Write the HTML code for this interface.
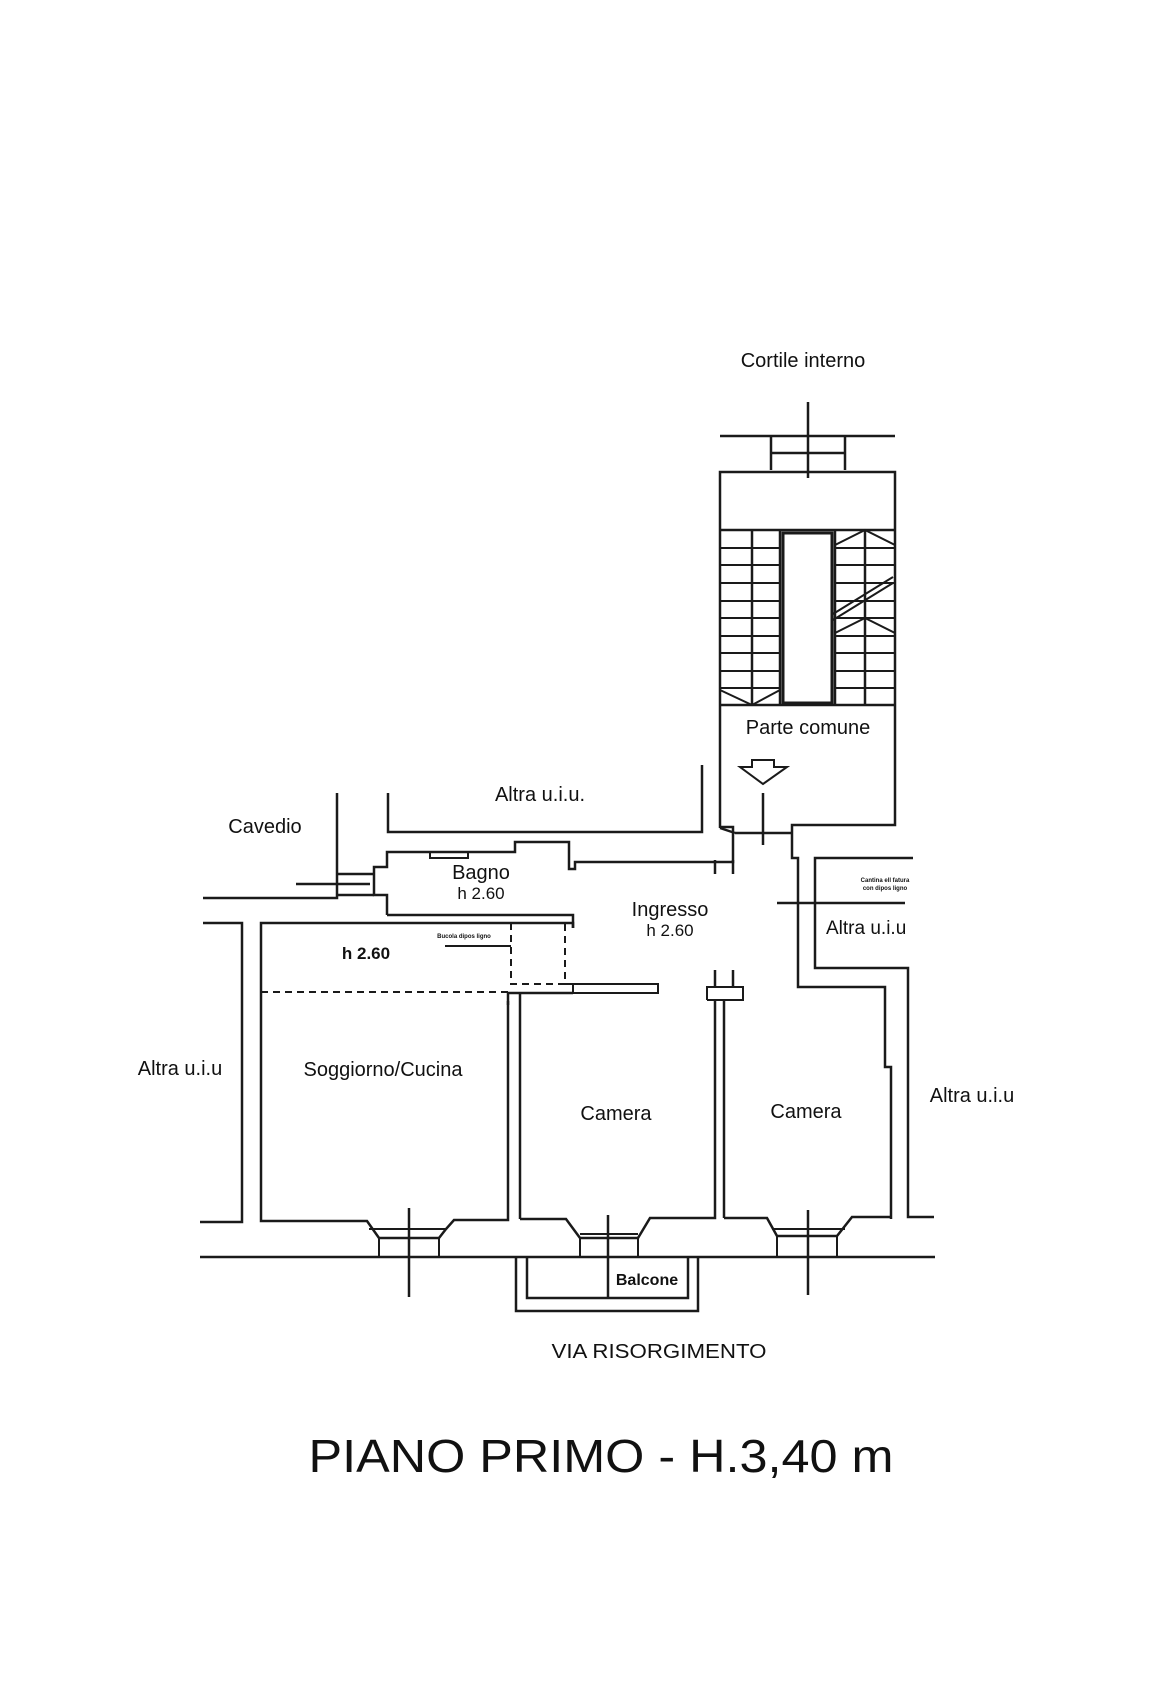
<!DOCTYPE html>
<html><head><meta charset="utf-8"><style>
html,body{margin:0;padding:0;background:#fff;}
svg{display:block;}
text{font-family:"Liberation Sans",sans-serif;fill:#111;}
</style></head><body>
<svg width="1170" height="1681" viewBox="0 0 1170 1681" xmlns="http://www.w3.org/2000/svg">
<g fill="none" stroke="#1a1a1a" stroke-width="2.5" stroke-linejoin="miter">
<line x1="720" y1="436" x2="895" y2="436"/>
<line x1="808" y1="402" x2="808" y2="478"/>
<polyline points="771,436 771,470"/><polyline points="845,436 845,470"/>
<line x1="771" y1="453" x2="845" y2="453"/>
<polyline points="720,828 720,472 895,472 895,825 792,825 792,858 798,858 798,987 885,987 885,1067 891,1067 891,1219"/>
<line x1="720" y1="828" x2="735" y2="833"/>
<line x1="735" y1="833" x2="792" y2="833"/>
<line x1="763" y1="793" x2="763" y2="845"/>
<line x1="720" y1="530" x2="895" y2="530"/>
<line x1="720" y1="705" x2="895" y2="705"/>
<rect x="783" y="533" width="49" height="170" stroke-width="3"/>
<line x1="780" y1="530" x2="780" y2="705"/>
<line x1="835" y1="530" x2="835" y2="705"/>
<line x1="752" y1="530" x2="752" y2="705"/>
<line x1="865" y1="530" x2="865" y2="705"/>
<g stroke-width="2">
<line x1="720" y1="548" x2="780" y2="548"/><line x1="720" y1="565" x2="780" y2="565"/><line x1="720" y1="583" x2="780" y2="583"/><line x1="720" y1="601" x2="780" y2="601"/><line x1="720" y1="618" x2="780" y2="618"/><line x1="720" y1="636" x2="780" y2="636"/><line x1="720" y1="653" x2="780" y2="653"/><line x1="720" y1="671" x2="780" y2="671"/><line x1="720" y1="688" x2="780" y2="688"/>
<line x1="835" y1="548" x2="895" y2="548"/><line x1="835" y1="565" x2="895" y2="565"/><line x1="835" y1="583" x2="895" y2="583"/><line x1="835" y1="601" x2="895" y2="601"/><line x1="835" y1="618" x2="895" y2="618"/><line x1="835" y1="636" x2="895" y2="636"/><line x1="835" y1="653" x2="895" y2="653"/><line x1="835" y1="671" x2="895" y2="671"/><line x1="835" y1="688" x2="895" y2="688"/>
<polyline points="720,690 752,705 780,690"/>
<polyline points="835,545 865,530 895,545"/>
<polyline points="835,633 865,618 895,633"/>
<line x1="833" y1="620" x2="893" y2="583"/><line x1="833" y1="614" x2="893" y2="577"/>
</g>
<polygon points="752,760 774,760 774,767 787,767 763,784 740,767 752,767" stroke-width="2"/>
<polyline points="388,793 388,832 702,832 702,765"/>
<polyline points="337,793 337,898 203,898"/>
<line x1="296" y1="884" x2="370" y2="884"/>
<line x1="337" y1="874" x2="374" y2="874"/><line x1="337" y1="895" x2="374" y2="895"/>
<polyline points="387,915 387,895 374,895 374,867 387,867 387,852 515,852 515,842 569,842 569,869 575,869 575,862 733,862 733,827 720,827"/>
<rect x="430" y="852" width="38" height="6" stroke-width="2"/>
<line x1="715" y1="860" x2="715" y2="874"/><line x1="733" y1="860" x2="733" y2="874"/>
<polyline points="387,915 573,915 573,928"/>
<polyline points="203,923 242,923 242,1222 200,1222"/>
<polyline points="573,928 573,923 261,923 261,1221 367,1221 379,1238 439,1238 446,1229 454,1220 508,1220 508,1001"/>
<g stroke-dasharray="7,5" stroke-width="2">
<line x1="261" y1="992" x2="511" y2="992"/>
<polyline points="511,923 511,984 565,984 565,923"/>
</g>
<polyline points="565,984 573,984 573,993 658,993 658,984 573,984" stroke-width="2"/>
<line x1="508" y1="993" x2="573" y2="993"/>
<line x1="508" y1="993" x2="508" y2="1005"/>
<line x1="520" y1="993" x2="520" y2="1219"/>
<line x1="445" y1="946" x2="511" y2="946" stroke-width="2"/>
<polyline points="520,1219 566,1219 580,1238 638,1238 650,1218 715,1218 715,1000"/>
<line x1="724" y1="1000" x2="724" y2="1218"/>
<polyline points="707,1000 707,987 743,987 743,1000 707,1000" stroke-width="2"/>
<line x1="715" y1="970" x2="715" y2="987"/><line x1="733" y1="970" x2="733" y2="987"/>
<polyline points="724,1218 767,1218 777,1236 837,1236 852,1217 891,1217"/>
<polyline points="913,858 815,858 815,968 908,968 908,1217 934,1217"/>
<line x1="777" y1="903" x2="905" y2="903"/>
<g stroke-width="2">
<rect x="379" y="1238" width="60" height="19"/><line x1="369" y1="1229" x2="446" y2="1229"/>
<rect x="580" y="1238" width="58" height="19"/><line x1="580" y1="1234" x2="638" y2="1234"/>
<rect x="777" y="1236" width="60" height="21"/><line x1="772" y1="1229" x2="845" y2="1229"/>
</g>
<line x1="200" y1="1257" x2="935" y2="1257"/>
<line x1="409" y1="1208" x2="409" y2="1297"/>
<line x1="608" y1="1215" x2="608" y2="1298"/>
<line x1="808" y1="1210" x2="808" y2="1295"/>
<polyline points="516,1257 516,1311 698,1311 698,1257"/>
<polyline points="527,1257 527,1298 688,1298 688,1257"/>
</g>
<g font-size="20">
<text x="803" y="367" text-anchor="middle">Cortile interno</text>
<text x="808" y="734" text-anchor="middle">Parte comune</text>
<text x="540" y="801" text-anchor="middle">Altra u.i.u.</text>
<text x="265" y="833" text-anchor="middle">Cavedio</text>
<text x="481" y="879" text-anchor="middle">Bagno</text>
<text x="481" y="899" text-anchor="middle" font-size="17">h 2.60</text>
<text x="670" y="916" text-anchor="middle">Ingresso</text>
<text x="670" y="936" text-anchor="middle" font-size="17">h 2.60</text>
<text x="366" y="959" text-anchor="middle" font-size="17" font-weight="bold">h 2.60</text>
<text x="826" y="934" font-size="19">Altra u.i.u</text>
<text x="383" y="1076" text-anchor="middle">Soggiorno/Cucina</text>
<text x="616" y="1120" text-anchor="middle">Camera</text>
<text x="806" y="1118" text-anchor="middle">Camera</text>
<text x="180" y="1075" text-anchor="middle">Altra u.i.u</text>
<text x="972" y="1102" text-anchor="middle">Altra u.i.u</text>
<text x="647" y="1285" text-anchor="middle" font-size="16" font-weight="bold">Balcone</text>
<text x="659" y="1358" text-anchor="middle" textLength="215" lengthAdjust="spacingAndGlyphs">VIA RISORGIMENTO</text>
</g>
<text x="464" y="938" text-anchor="middle" font-size="6" font-weight="bold">Bucola dipos ligno</text>
<text x="885" y="882" text-anchor="middle" font-size="6" font-weight="bold">Cantina ell fatura</text>
<text x="885" y="890" text-anchor="middle" font-size="6" font-weight="bold">con dipos ligno</text>
<text x="601" y="1472" text-anchor="middle" font-size="46" textLength="585" lengthAdjust="spacingAndGlyphs">PIANO PRIMO - H.3,40 m</text>
</svg>
</body></html>
